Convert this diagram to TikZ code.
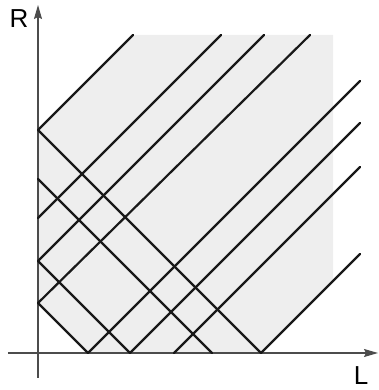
\documentclass[tikz,border=0pt]{standalone}
\usepackage{fontspec}
\setmainfont{Liberation Sans}
\usetikzlibrary{arrows.meta}
\definecolor{regiongray}{RGB}{238,238,238}

\begin{document}
\begin{tikzpicture}[
    x=1pt, y=1pt,
    axis/.style={-{Stealth[length=14pt, width=8pt, inset=2pt]}, line width=1.3pt, color=black!70},
    ray/.style={line width=2.2pt, color=black!90, line cap=round},
    lbl/.style={font=\fontsize{26}{26}\selectfont, inner sep=0pt}
  ]
  \useasboundingbox (-38,-37) rectangle (341,353);

  % ── Shaded region ──────────────────────────────────────────────
  \fill[regiongray] (0,50) -- (0,223) -- (95,318) -- (295,318)
    -- (295,73) -- (223,0) -- (50,0) -- cycle;

  % ── Points on the axes ─────────────────────────────────────────
  \coordinate (r1) at (0,50);
  \coordinate (r2) at (0,92);
  \coordinate (r3) at (0,135);
  \coordinate (r4) at (0,174);
  \coordinate (r5) at (0,223);
  \coordinate (l1) at (50,0);
  \coordinate (l2) at (92,0);
  \coordinate (l3) at (136,0);
  \coordinate (l4) at (174,0);
  \coordinate (l5) at (223,0);

  % ── Free ends: top and right ───────────────────────────────────
  \coordinate (t5) at (95,318);
  \coordinate (t3) at (183,318);
  \coordinate (t2) at (226,318);
  \coordinate (t1) at (272,318);
  \coordinate (s1) at (322,272);
  \coordinate (s2) at (322,230);
  \coordinate (s3) at (322,186);
  \coordinate (s5) at (322,99);

  % ── Axes ───────────────────────────────────────────────────────
  \coordinate (o1) at (0,-25);
  \coordinate (o2) at (-30,0);
  \node[lbl] (rlab) at (-19,334) {R};
  \node[lbl] (llab) at (323,-23) {L};
  \draw[axis] (o1) -- (0,348);
  \draw[axis] (o2) -- (340,0);

  % ── Rising lines ───────────────────────────────────────────────
  \draw[ray] (r5) -- (t5);
  \draw[ray] (r3) -- (t3);
  \draw[ray] (r2) -- (t2);
  \draw[ray] (r1) -- (t1);
  \draw[ray] (l1) -- (s1);
  \draw[ray] (l2) -- (s2);
  \draw[ray] (l3) -- (s3);
  \draw[ray] (l5) -- (s5);

  % ── Falling lines ──────────────────────────────────────────────
  \draw[ray] (r5) -- (l5);
  \draw[ray] (r4) -- (l4);
  \draw[ray] (r2) -- (l2);
  \draw[ray] (r1) -- (l1);

\end{tikzpicture}
\end{document}
